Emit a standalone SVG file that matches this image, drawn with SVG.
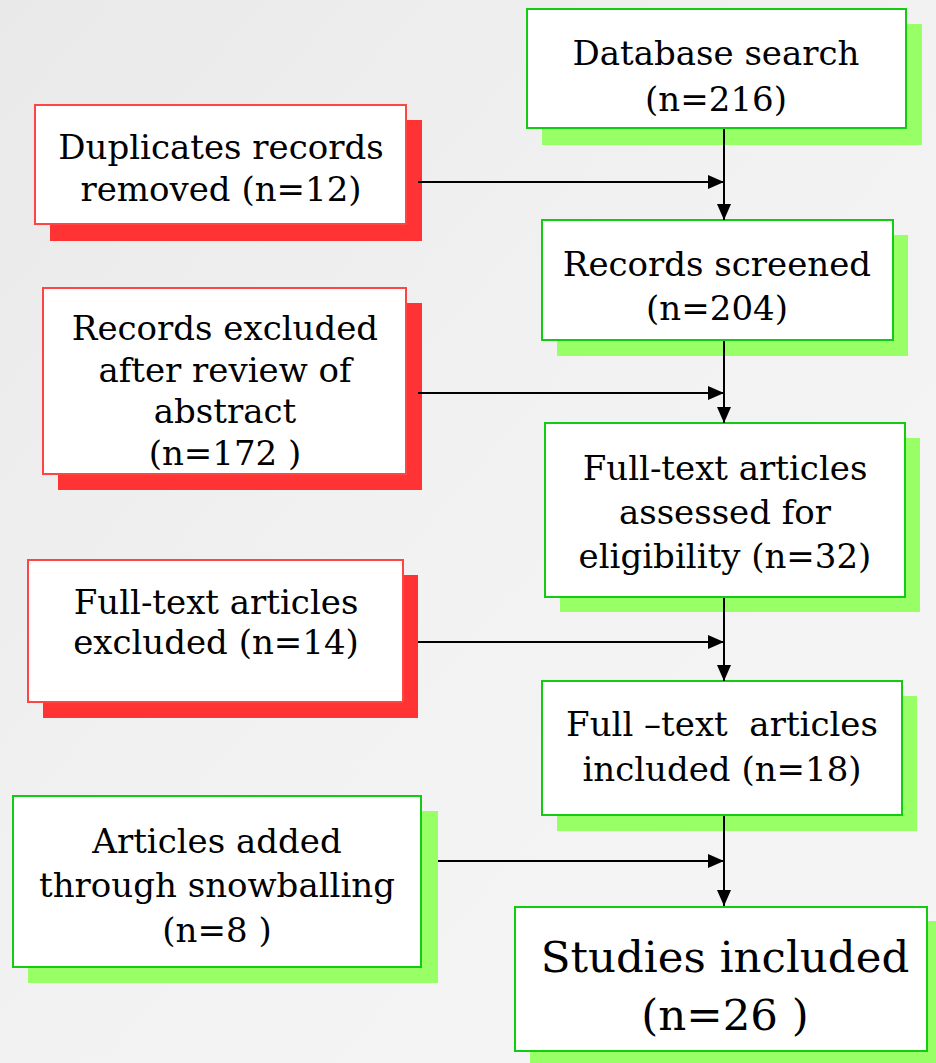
<svg xmlns="http://www.w3.org/2000/svg" width="936" height="1063" viewBox="0 0 936 1063">
<defs>
<linearGradient id="bg" x1="0" y1="0" x2="1" y2="1">
<stop offset="0" stop-color="#e9e9e9"/>
<stop offset="0.5" stop-color="#f2f2f2"/>
<stop offset="1" stop-color="#f5f5f5"/>
</linearGradient>
<marker id="ah" viewBox="0 0 10 10" refX="10" refY="5" markerWidth="16" markerHeight="14" markerUnits="userSpaceOnUse" orient="auto" preserveAspectRatio="none">
<path d="M0,0 L10,5 L0,10 z" fill="#000"/>
</marker>
</defs>
<style>
.box{fill:#fff;stroke-width:2}
.g{stroke:#11cc11}
.r{stroke:#ff4444}
.gs{fill:#99ff66}
.rs{fill:#ff3333}
text{font-family:"DejaVu Serif","Liberation Serif",serif;font-size:34px;fill:#000;text-anchor:middle;white-space:pre}
.big{font-size:43.5px}
.c{stroke:#000;stroke-width:2;fill:none}
</style>
<rect width="936" height="1063" fill="url(#bg)"/>
<g id="database-search">
<rect class="gs" x="542" y="24" width="380" height="121"/>
<rect class="box g" x="527" y="9" width="379" height="119"/>
<text x="716" y="65">Database search</text>
<text x="716" y="111">(n=216)</text>
</g>
<g id="duplicates">
<rect class="rs" x="50" y="120" width="372" height="121"/>
<rect class="box r" x="35" y="105" width="371" height="119"/>
<text x="221" y="159">Duplicates records</text>
<text x="221" y="201">removed (n=12)</text>
</g>
<g id="records-screened">
<rect class="gs" x="557" y="235" width="351" height="121"/>
<rect class="box g" x="542" y="220" width="351" height="120"/>
<text x="717" y="276">Records screened</text>
<text x="717" y="320">(n=204)</text>
</g>
<g id="records-excluded">
<rect class="rs" x="58" y="303" width="364" height="187"/>
<rect class="box r" x="43" y="288" width="363" height="186"/>
<text x="225" y="340">Records excluded</text>
<text x="225" y="382">after review of</text>
<text x="225" y="423">abstract</text>
<text x="225" y="465">(n=172 )</text>
</g>
<g id="fulltext-assessed">
<rect class="gs" x="560" y="438" width="360" height="174"/>
<rect class="box g" x="545" y="423" width="360" height="174"/>
<text x="725" y="480">Full-text articles</text>
<text x="725" y="524">assessed for</text>
<text x="725" y="568">eligibility (n=32)</text>
</g>
<g id="fulltext-excluded">
<rect class="rs" x="43" y="575" width="375" height="143"/>
<rect class="box r" x="28" y="560" width="375" height="142"/>
<text x="216" y="614">Full-text articles</text>
<text x="216" y="654">excluded (n=14)</text>
</g>
<g id="fulltext-included">
<rect class="gs" x="557" y="696" width="360" height="135"/>
<rect class="box g" x="542" y="681" width="360" height="134"/>
<text x="722" y="736">Full –text  articles</text>
<text x="722" y="781">included (n=18)</text>
</g>
<g id="articles-added">
<rect class="gs" x="28" y="811" width="410" height="172"/>
<rect class="box g" x="13" y="796" width="408" height="171"/>
<text x="217" y="853">Articles added</text>
<text x="217" y="897">through snowballing</text>
<text x="217" y="942">(n=8 )</text>
</g>
<g id="studies-included">
<rect class="gs" x="530" y="921" width="410" height="142"/>
<rect class="box g" x="515" y="907" width="412" height="144"/>
<text class="big" x="725" y="972">Studies included</text>
<text class="big" x="725" y="1030">(n=26 )</text>
</g>
<g id="connectors">
<line class="c" x1="724" y1="129" x2="724" y2="220" marker-end="url(#ah)"/>
<line class="c" x1="418" y1="182" x2="724" y2="182" marker-end="url(#ah)"/>
<line class="c" x1="724" y1="341" x2="724" y2="423" marker-end="url(#ah)"/>
<line class="c" x1="418" y1="393" x2="724" y2="393" marker-end="url(#ah)"/>
<line class="c" x1="724" y1="598" x2="724" y2="681" marker-end="url(#ah)"/>
<line class="c" x1="418" y1="642" x2="724" y2="642" marker-end="url(#ah)"/>
<line class="c" x1="724" y1="816" x2="724" y2="906" marker-end="url(#ah)"/>
<line class="c" x1="438" y1="861" x2="724" y2="861" marker-end="url(#ah)"/>
</g>
</svg>
